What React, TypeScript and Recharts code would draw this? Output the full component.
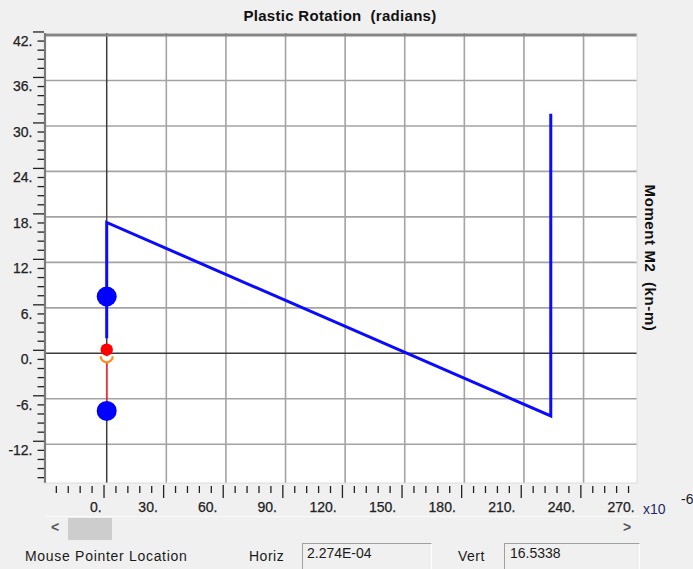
import React from 'react';
import { ComposedChart, Line, Scatter, XAxis, YAxis, CartesianGrid, ReferenceLine } from 'recharts';

const FONT = '"Liberation Sans", Arial, Helvetica, sans-serif';

// Axis ticks: rotation in 1e-6 radians, moment in kN-m
const rotationTicks = [0, 30, 60, 90, 120, 150, 180, 210, 240, 270];
const momentTicks = [-12, -6, 0, 6, 12, 18, 24, 30, 36, 42];
const rotationDomain: [number, number] = [-31.06, 266.9];
const momentDomain: [number, number] = [-17.11, 42.26];

// Hinge response path (blue)
const pathRotation = [0, 0, 223.5, 223.5];
const pathMoment = [2.0, 17.26, -8.26, 31.6];
// Unloading segment (red)
const unloadRotation = [0, 0];
const unloadMoment = [0.48, -7.6];
// Yield points (blue dots)
const yieldRotation = [0, 0];
const yieldMoment = [7.5, -7.6];
// Current state point (red dot)
const currentRotation = [0];
const currentMoment = [0.48];
// Origin marker (orange)
const originRotation = [0];
const originMoment = [-0.4];

const zip = (xs: number[], ys: number[]) => xs.map((r, i) => ({ r, m: ys[i] }));

// minor ticks: 5 subdivisions of each major interval
const minorRotation: number[] = [];
[-30, ...rotationTicks].forEach((a) => {
  for (let k = 1; k < 5; k++) {
    const v = +(a + 6 * k).toFixed(3);
    if (v > rotationDomain[0] && v < rotationDomain[1]) minorRotation.push(v);
  }
});
const minorMoment: number[] = [];
[-18, ...momentTicks].forEach((a) => {
  for (let k = 1; k < 5; k++) {
    const v = +(a + 1.2 * k).toFixed(3);
    if (v > momentDomain[0] && v < momentDomain[1]) minorMoment.push(v);
  }
});
const xTicks = [...rotationTicks, ...minorRotation].sort((a, b) => a - b);
const yTicks = [...momentTicks, ...minorMoment].sort((a, b) => a - b);

const gridX = rotationTicks.filter((v) => v !== 0 && v < rotationDomain[1]);
const gridY = momentTicks.filter((v) => v !== 0 && v !== 42);

const TICK_COLOR = '#222222';

const XTick = (props: any) => {
  const { x, y, payload } = props;
  const v = payload.value;
  const major = rotationTicks.includes(v);
  const tx = x - 2.7;
  return (
    <g>
      {v < rotationDomain[1] && (
        <line x1={tx} x2={tx} y1={y + (major ? 2 : 3)} y2={y + (major ? 15 : 10)} stroke={TICK_COLOR} strokeWidth={1.3} />
      )}
      {major && (
        <text
          x={x - (v === 0 ? 5 : 8.5)}
          y={y + 28.5}
          textAnchor="end"
          fontSize={14}
          fill={TICK_COLOR}
          stroke={TICK_COLOR}
          strokeWidth={0.25}
          fontFamily={FONT}
        >
          {`${v}.`}
        </text>
      )}
    </g>
  );
};

const YTick = (props: any) => {
  const { x, y, payload } = props;
  const v = payload.value;
  const major = momentTicks.includes(v);
  const ty = y - 3;
  return (
    <g>
      <line x1={x - (major ? 12 : 7.5)} x2={x - 1} y1={ty} y2={ty} stroke={TICK_COLOR} strokeWidth={1.3} />
      {major && (
        <text
          x={x - 12.5}
          y={y + 11}
          textAnchor="end"
          fontSize={14}
          fill={TICK_COLOR}
          stroke={TICK_COLOR}
          strokeWidth={0.25}
          fontFamily={FONT}
        >
          {`${v}.`}
        </text>
      )}
    </g>
  );
};

const BlueDot = (p: any) => <circle cx={p.cx} cy={p.cy} r={10} fill="#0000ff" />;
const RedDot = (p: any) => <circle cx={p.cx} cy={p.cy} r={6.2} fill="#ff0000" />;
const OrangeArc = (p: any) => (
  <path d={`M ${p.cx - 6} ${p.cy} A 6 6 0 0 0 ${p.cx + 6} ${p.cy}`} fill="#ffffff" stroke="#ff8c1a" strokeWidth={2.2} />
);

const labelStyle: React.CSSProperties = {
  position: 'absolute',
  fontSize: 14,
  color: '#1a1a1a',
  whiteSpace: 'nowrap',
  lineHeight: '16px',
};

export default function App() {
  return (
    <div
      style={{
        position: 'absolute',
        left: 0,
        top: 0,
        width: 693,
        height: 569,
        background: '#f0f0f0',
        overflow: 'hidden',
        fontFamily: FONT,
      }}
    >
      <div style={{ position: 'absolute', left: 0, top: 0 }}>
        <ComposedChart width={693} height={569} margin={{ top: 33, right: 56, bottom: 46, left: 0 }}>
          <CartesianGrid horizontal={false} vertical={false} fill="#ffffff" stroke="none" />
          <XAxis
            dataKey="r"
            type="number"
            domain={rotationDomain}
            allowDataOverflow
            ticks={xTicks}
            interval={0}
            tick={<XTick />}
            tickLine={false}
            axisLine={false}
            tickSize={0}
            tickMargin={0}
            height={40}
          />
          <YAxis
            type="number"
            domain={momentDomain}
            allowDataOverflow
            ticks={yTicks}
            interval={0}
            tick={<YTick />}
            tickLine={false}
            axisLine={false}
            tickSize={0}
            tickMargin={0}
            width={45}
          />
          {gridX.map((v) => (
            <ReferenceLine key={`gx${v}`} x={v} stroke="#a3a3a3" strokeWidth={1.6} zIndex={-10} />
          ))}
          {gridY.map((v) => (
            <ReferenceLine key={`gy${v}`} y={v} stroke="#a3a3a3" strokeWidth={1.6} zIndex={-10} />
          ))}
          <ReferenceLine x={0} stroke="#3c3c3c" strokeWidth={1.5} zIndex={-10} />
          <ReferenceLine y={0} stroke="#3c3c3c" strokeWidth={1.5} zIndex={-10} />
          <ReferenceLine y={42} stroke="#858585" strokeWidth={3} zIndex={-10} />
          <ReferenceLine x={rotationDomain[0]} stroke="#7a7a7a" strokeWidth={2.2} zIndex={-10} />
          <ReferenceLine x={rotationDomain[1]} stroke="#dcdcdc" strokeWidth={1} zIndex={-10} />
          <ReferenceLine y={momentDomain[0]} stroke="#dcdcdc" strokeWidth={1} zIndex={-10} />

          <Line
            data={zip(unloadRotation, unloadMoment)}
            dataKey="m"
            stroke="#ff2a2a"
            strokeWidth={1.5}
            dot={false}
            isAnimationActive={false}
          />
          <Line
            data={zip(pathRotation, pathMoment)}
            dataKey="m"
            stroke="#0a0aff"
            strokeWidth={3}
            dot={false}
            isAnimationActive={false}
          />
          <Scatter data={zip(originRotation, originMoment)} dataKey="m" shape={OrangeArc} isAnimationActive={false} />
          <Scatter data={zip(currentRotation, currentMoment)} dataKey="m" shape={RedDot} isAnimationActive={false} />
          <Scatter data={zip(yieldRotation, yieldMoment)} dataKey="m" shape={BlueDot} isAnimationActive={false} />
        </ComposedChart>
      </div>

      {/* title */}
      <div
        style={{
          position: 'absolute',
          left: 190,
          width: 300,
          top: 7,
          textAlign: 'center',
          fontWeight: 'bold',
          fontSize: 15,
          letterSpacing: 0.3,
          lineHeight: '18px',
          color: '#111',
          whiteSpace: 'nowrap',
        }}
      >
        Plastic Rotation&nbsp;&nbsp;(radians)
      </div>

      {/* right axis title */}
      <div
        style={{
          position: 'absolute',
          left: 650,
          top: 257.5,
          transform: 'translate(-50%, -50%) rotate(90deg)',
          fontWeight: 'bold',
          fontSize: 15,
          letterSpacing: 0.6,
          lineHeight: '18px',
          color: '#111',
          whiteSpace: 'nowrap',
        }}
      >
        Moment M2&nbsp;&nbsp;(kn-m)
      </div>

      {/* exponent */}
      <div style={{ ...labelStyle, left: 643, top: 501, color: '#1c2a66' }}>x10</div>
      <div style={{ ...labelStyle, left: 681, top: 491, color: '#1a1a1a' }}>-6</div>

      {/* scrollbar */}
      <div style={{ position: 'absolute', left: 45, top: 516, width: 595, height: 1, background: '#fbfbfb' }} />
      <div style={{ position: 'absolute', left: 68, top: 518, width: 44, height: 22, background: '#cdcdcd' }} />
      <div style={{ ...labelStyle, left: 51, top: 519, fontWeight: 'bold', color: '#555' }}>&lt;</div>
      <div style={{ ...labelStyle, left: 623, top: 519, fontWeight: 'bold', color: '#555' }}>&gt;</div>

      {/* status row */}
      <div style={{ ...labelStyle, left: 25, top: 548, letterSpacing: 0.7 }}>Mouse Pointer Location</div>
      <div style={{ ...labelStyle, left: 249, top: 548, letterSpacing: 0.5 }}>Horiz</div>
      <div
        style={{
          position: 'absolute',
          left: 302,
          top: 543,
          width: 130,
          height: 30,
          borderTop: '1px solid #a0a0a0',
          borderLeft: '1px solid #a0a0a0',
          borderRight: '1px solid #ffffff',
          boxSizing: 'border-box',
        }}
      />
      <div style={{ ...labelStyle, left: 307, top: 545 }}>2.274E-04</div>
      <div style={{ ...labelStyle, left: 458, top: 548, letterSpacing: 0.5 }}>Vert</div>
      <div
        style={{
          position: 'absolute',
          left: 504,
          top: 543,
          width: 136,
          height: 30,
          borderTop: '1px solid #a0a0a0',
          borderLeft: '1px solid #a0a0a0',
          borderRight: '1px solid #ffffff',
          boxSizing: 'border-box',
        }}
      />
      <div style={{ ...labelStyle, left: 510, top: 545 }}>16.5338</div>
    </div>
  );
}
